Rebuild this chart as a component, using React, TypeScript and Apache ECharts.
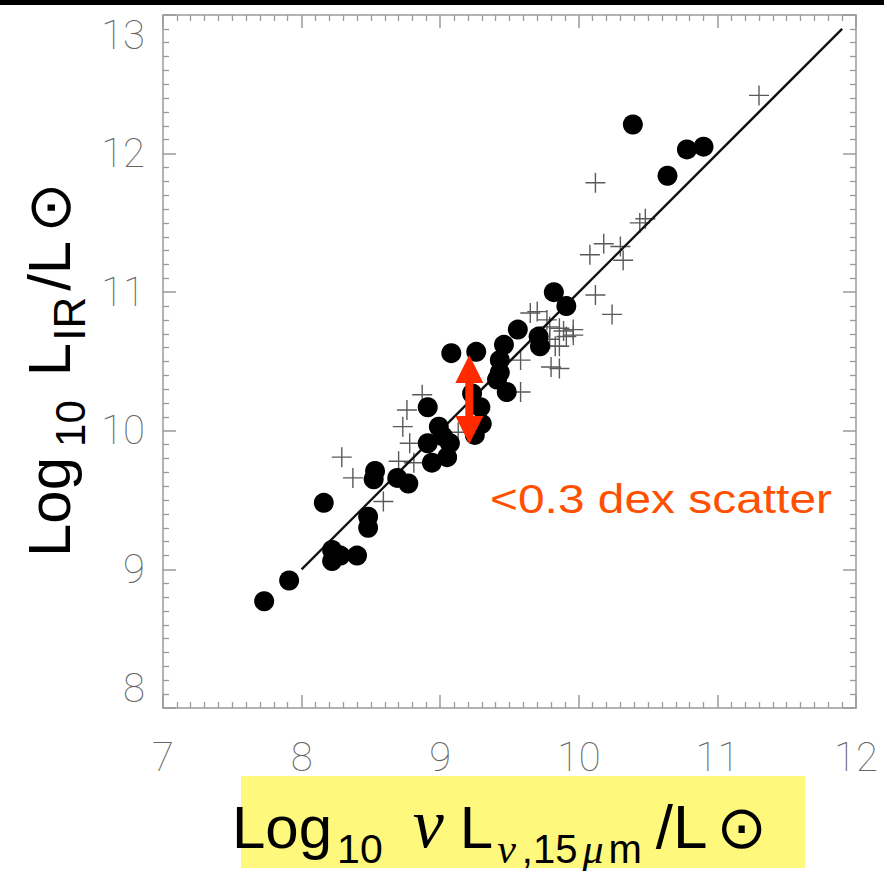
import React, { useEffect, useRef } from 'react';
import * as echarts from 'echarts';

// ---- data ----
const xTicks = [7, 8, 9, 10, 11, 12];
const yTicks = [8, 9, 10, 11, 12, 13];

const circleX = [7.73, 7.91, 8.16, 8.22, 8.22, 8.28, 8.40, 8.48, 8.48, 8.53, 8.52, 8.69, 8.77, 8.91, 8.94, 9.05, 9.07, 9.08, 9.26, 9.46, 9.43, 9.43, 9.41, 9.48, 9.23, 9.29, 9.30, 9.25, 8.91, 8.99, 9.02, 9.56, 9.71, 9.72, 9.82, 9.91, 10.39, 10.64, 10.78, 10.90];
const circleY = [8.77, 8.92, 9.48, 9.14, 9.06, 9.10, 9.10, 9.38, 9.30, 9.71, 9.65, 9.66, 9.62, 9.91, 9.77, 9.81, 9.91, 10.56, 10.57, 10.62, 10.51, 10.42, 10.37, 10.28, 10.27, 10.17, 10.05, 9.97, 10.17, 10.03, 9.96, 10.73, 10.68, 10.61, 11.00, 10.90, 12.21, 11.84, 12.03, 12.05];

const crossX = [11.30, 10.12, 10.48, 10.44, 10.08, 10.18, 10.32, 10.30, 10.12, 10.24, 9.70, 9.79, 9.86, 9.91, 9.83, 9.79, 9.58, 9.80, 8.29, 8.37, 8.76, 8.73, 8.87, 8.78, 8.70, 9.13, 9.58, 8.59, 8.81, 9.77, 9.89, 9.96, 9.86, 9.65, 9.96, 9.86];
const crossY = [12.42, 11.79, 11.53, 11.50, 11.27, 11.35, 11.23, 11.33, 10.98, 10.84, 10.86, 10.75, 10.74, 10.68, 10.61, 10.66, 10.51, 10.46, 9.81, 9.66, 10.15, 10.03, 10.26, 9.91, 9.78, 9.99, 10.28, 9.49, 9.77, 10.80, 10.72, 10.69, 10.45, 10.85, 10.73, 10.61];

const fitX = [8.0, 11.9];
const fitY = [9.0, 12.9];

const arrowX = [9.21];
const arrowTop = [10.547];
const arrowBottom = [9.905];

const annotationText = '<0.3 dex scatter';

// ---- helpers ----
const SANS = '"Liberation Sans", Arial, sans-serif';
const SERIF = '"Liberation Serif", "DejaVu Serif", serif';
const SYM = '"DejaVu Sans", sans-serif';

type Piece = { t: string; fs: number; fam: string; it?: boolean; dy?: number; gap?: number };

function measure(text: string, font: string): number {
  const c = document.createElement('canvas').getContext('2d');
  if (!c) return text.length * 20;
  c.font = font;
  return c.measureText(text).width;
}

function buildTitle(pieces: Piece[], x: number, y: number, rotation: number, scale: number) {
  let cx = 0;
  const children: any[] = [];
  for (const p of pieces) {
    cx += p.gap || 0;
    const font = `${p.it ? 'italic ' : ''}${p.fs}px ${p.fam}`;
    const w = measure(p.t, font);
    children.push({
      type: 'text',
      x: cx,
      y: (p.dy || 0) - 0.345 * p.fs,
      z: 6,
      style: {
        text: p.t,
        fontSize: p.fs,
        fontFamily: p.fam,
        fontStyle: p.it ? 'italic' : 'normal',
        fill: '#000',
        align: 'left',
        verticalAlign: 'middle',
      },
    });
    cx += w;
  }
  return { type: 'group', x, y, rotation, scaleX: scale, z: 6, children };
}

const xTitlePieces: Piece[] = [
  { t: 'Log', fs: 60, fam: SANS },
  { t: '10', fs: 41, fam: SANS, dy: 15, gap: 5 },
  { t: 'ν', fs: 70, fam: SERIF, it: true, gap: 30 },
  { t: 'L', fs: 60, fam: SANS, gap: 16 },
  { t: 'ν', fs: 42, fam: SERIF, it: true, dy: 15, gap: 4 },
  { t: ',15', fs: 40, fam: SANS, dy: 15, gap: 6 },
  { t: 'μ', fs: 42, fam: SERIF, it: true, dy: 15, gap: 5 },
  { t: 'm', fs: 40, fam: SANS, dy: 15, gap: 5 },
  { t: '/L', fs: 62, fam: SANS, gap: 14 },
  { t: '⊙', fs: 60, fam: SYM, gap: 9 },
];

const yTitlePieces: Piece[] = [
  { t: 'Log', fs: 60, fam: SANS },
  { t: '10', fs: 42, fam: SANS, dy: 15, gap: 10 },
  { t: 'L', fs: 60, fam: SANS, gap: 24 },
  { t: 'IR', fs: 44, fam: SANS, dy: 15, gap: 2 },
  { t: '/L', fs: 60, fam: SANS, gap: 6 },
  { t: '⊙', fs: 60, fam: SYM, gap: 8 },
];

const AXIS_COLOR = '#9a9a9a';

function makeAxis(kind: 'x' | 'y', position: string, ticks: number[], showLabel: boolean) {
  return {
    type: 'value',
    position,
    min: ticks[0],
    max: ticks[ticks.length - 1],
    interval: 1,
    axisLine: { show: true, onZero: false, lineStyle: { color: AXIS_COLOR, width: 1.5 } },
    axisTick: { show: true, inside: true, length: 13, lineStyle: { color: AXIS_COLOR, width: 1.5 } },
    minorTick: { show: true, splitNumber: 10, length: 6, lineStyle: { color: AXIS_COLOR, width: 1.3 } },
    splitLine: { show: false },
    minorSplitLine: { show: false },
    axisLabel: showLabel
      ? {
          show: true,
          fontFamily: 'Roboto, "DejaVu Sans", sans-serif',
          fontWeight: 100,
          fontSize: 40,
          color: '#666666',
          margin: kind === 'x' ? 29 : 18,
          formatter: (v: number) => String(v),
          ...(kind === 'y' ? { verticalAlignMinLabel: 'bottom', verticalAlignMaxLabel: 'top' } : {}),
        }
      : { show: false },
  };
}

export default function App() {
  const ref = useRef<HTMLDivElement>(null);

  useEffect(() => {
    if (!ref.current) return;
    const chart = echarts.init(ref.current, null, { renderer: 'svg' });

    const annFs = 40;
    const annW = measure(annotationText, `${annFs}px ${SANS}`);
    const annScale = 342 / annW;

    const option: any = {
      animation: false,
      backgroundColor: '#ffffff',
      grid: { left: 163, top: 15, width: 693, height: 693, containLabel: false },
      xAxis: [makeAxis('x', 'bottom', xTicks, true), makeAxis('x', 'top', xTicks, false)],
      yAxis: [makeAxis('y', 'left', yTicks, true), makeAxis('y', 'right', yTicks, false)],
      series: [
        {
          name: 'crosses',
          type: 'scatter',
          xAxisIndex: 0,
          yAxisIndex: 0,
          symbol: 'path://M10,0 L10,20 M0,10 L20,10',
          symbolSize: 20,
          itemStyle: { color: 'rgba(0,0,0,0)', borderColor: '#5a5a5a', borderWidth: 1.4, opacity: 1 },
          data: crossX.map((x, i) => [x, crossY[i]]),
          z: 2,
        },
        {
          name: 'fit',
          type: 'line',
          xAxisIndex: 0,
          yAxisIndex: 0,
          showSymbol: false,
          symbol: 'none',
          lineStyle: { color: '#111', width: 2.3 },
          data: fitX.map((x, i) => [x, fitY[i]]),
          z: 3,
        },
        {
          name: 'circles',
          type: 'scatter',
          xAxisIndex: 0,
          yAxisIndex: 0,
          symbol: 'circle',
          symbolSize: 20,
          itemStyle: { color: '#000', opacity: 1 },
          data: circleX.map((x, i) => [x, circleY[i]]),
          z: 4,
        },
        {
          name: 'arrow',
          type: 'custom',
          xAxisIndex: 0,
          yAxisIndex: 0,
          z: 5,
          encode: { x: 0, y: [1, 2] },
          data: arrowX.map((x, i) => [x, arrowTop[i], arrowBottom[i]]),
          renderItem: (params: any, api: any) => {
            const top = api.coord([api.value(0), api.value(1)]);
            const bot = api.coord([api.value(0), api.value(2)]);
            const cx = top[0];
            const hw = 14;
            const hh = 28;
            const color = '#ff2a00';
            return {
              type: 'group',
              children: [
                { type: 'rect', shape: { x: cx - 4, y: top[1] + hh - 2, width: 8, height: bot[1] - top[1] - 2 * hh + 4 }, style: { fill: color } },
                { type: 'polygon', shape: { points: [[cx, top[1]], [cx - hw, top[1] + hh], [cx + hw, top[1] + hh]] }, style: { fill: color } },
                { type: 'polygon', shape: { points: [[cx, bot[1]], [cx - hw, bot[1] - hh], [cx + hw, bot[1] - hh]] }, style: { fill: color } },
              ],
            };
          },
        },
      ],
      graphic: [
        { type: 'rect', left: 0, top: 0, z: 10, shape: { width: 884, height: 5 }, style: { fill: '#000' } },
        { type: 'rect', x: 241, y: 776, z: 0, shape: { width: 564, height: 92 }, style: { fill: '#fef97c' } },
        buildTitle(xTitlePieces, 232, 848, 0, 1),
        buildTitle(yTitlePieces, 70, 557, Math.PI / 2, 1),
        {
          type: 'text',
          x: 490,
          y: 513 - 0.345 * annFs,
          scaleX: annScale,
          z: 6,
          style: {
            text: annotationText,
            fontSize: annFs,
            fontFamily: SANS,
            fill: '#ff5000',
            align: 'left',
            verticalAlign: 'middle',
          },
        },
      ],
    };

    chart.setOption(option);
    return () => chart.dispose();
  }, []);

  return (
    <div
      ref={ref}
      style={{ position: 'absolute', left: 0, top: 0, width: 884, height: 871, background: '#fff' }}
    />
  );
}
